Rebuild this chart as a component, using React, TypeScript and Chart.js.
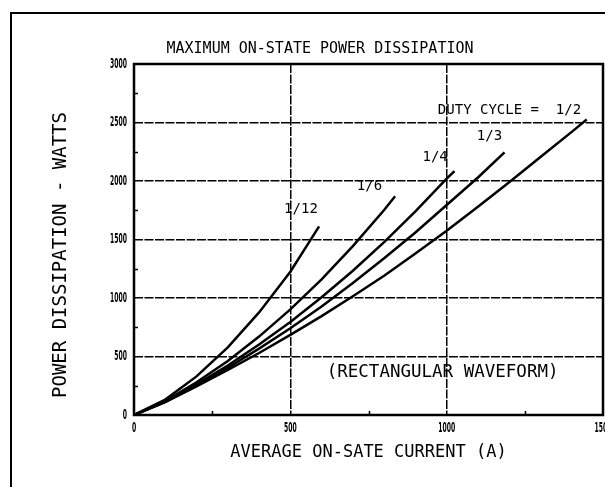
import { useEffect, useRef } from "react";
import { Chart, registerables } from "chart.js";

Chart.register(...registerables);

const TITLE = "MAXIMUM ON-STATE POWER DISSIPATION";
const X_TITLE = "AVERAGE ON-SATE CURRENT (A)";
const Y_TITLE = "POWER DISSIPATION - WATTS";

const X_TICKS = [0, 500, 1000, 1500];
const X_TICK_LABELS = ["0", "500", "1000", "1500"];
const Y_TICKS = [0, 500, 1000, 1500, 2000, 2500, 3000];
const Y_TICK_LABELS = ["0", "500", "1000", "1500", "2000", "2500", "3000"];
const X_MINOR = [250, 750, 1250];
const Y_MINOR = [250, 750, 1250, 1750, 2250, 2750];

// Duty cycle 1/2
const I_HALF = [0, 100, 200, 300, 400, 500, 600, 700, 800, 900, 1000, 1100, 1200, 1300, 1400, 1448];
const P_HALF = [0, 110, 245, 385, 530, 685, 845, 1015, 1190, 1380, 1575, 1780, 1990, 2205, 2420, 2525];
// Duty cycle 1/3
const I_THIRD = [0, 100, 200, 300, 400, 500, 600, 700, 800, 900, 1000, 1100, 1185];
const P_THIRD = [0, 112, 255, 404, 567, 741, 928, 1128, 1340, 1560, 1795, 2030, 2245];
// Duty cycle 1/4
const I_QUARTER = [0, 100, 200, 300, 400, 500, 600, 700, 800, 900, 1000, 1025];
const P_QUARTER = [0, 115, 262, 423, 602, 795, 1006, 1233, 1478, 1741, 2020, 2085];
// Duty cycle 1/6
const I_SIXTH = [0, 100, 200, 300, 400, 500, 600, 700, 800, 835];
const P_SIXTH = [0, 120, 280, 462, 670, 903, 1160, 1444, 1752, 1870];
// Duty cycle 1/12
const I_TWELFTH = [0, 100, 200, 300, 400, 500, 592];
const P_TWELFTH = [0, 132, 330, 578, 877, 1225, 1612];

const SERIES_NAMES = ["1/2", "1/3", "1/4", "1/6", "1/12"];
const SERIES_I = [I_HALF, I_THIRD, I_QUARTER, I_SIXTH, I_TWELFTH];
const SERIES_P = [P_HALF, P_THIRD, P_QUARTER, P_SIXTH, P_TWELFTH];

// Text annotations (anchored in data coordinates)
const NOTE_TEXT = ["1/12", "1/6", "1/4", "1/3", "DUTY CYCLE =  1/2", "(RECTANGULAR WAVEFORM)"];
const NOTE_I = [534, 753, 963, 1137, 1201, 987];
const NOTE_P = [1756, 1953, 2201, 2380, 2607, 363];
const NOTE_SIZE = [14, 14, 14, 14, 14, 17.5];

const MONO = "'DejaVu Sans Mono', monospace";

const decorPlugin = {
  id: "decor",
  afterDraw(chart: any) {
    const { ctx, chartArea: a, scales } = chart;
    const xs = scales.x;
    const ys = scales.y;
    ctx.save();
    ctx.strokeStyle = "#000";
    ctx.fillStyle = "#000";

    // outer frame (open to the right and bottom)
    ctx.lineWidth = 2;
    ctx.beginPath();
    ctx.moveTo(11, chart.height + 5);
    ctx.lineTo(11, 13);
    ctx.lineTo(chart.width + 5, 13);
    ctx.stroke();

    // plot frame
    ctx.lineWidth = 2.5;
    ctx.strokeRect(a.left, a.top, a.right - a.left, a.bottom - a.top);

    // minor ticks
    ctx.lineWidth = 1.5;
    ctx.beginPath();
    Y_MINOR.forEach((v) => {
      const y = Math.round(ys.getPixelForValue(v)) + 0.5;
      ctx.moveTo(a.left, y);
      ctx.lineTo(a.left + 4, y);
    });
    X_MINOR.forEach((v) => {
      const x = Math.round(xs.getPixelForValue(v)) + 0.5;
      ctx.moveTo(x, a.bottom);
      ctx.lineTo(x, a.bottom - 4);
    });
    ctx.stroke();

    // tick labels (condensed)
    ctx.font = "bold 16px 'DejaVu Sans'";
    ctx.textBaseline = "middle";
    Y_TICKS.forEach((v, i) => {
      const y = ys.getPixelForValue(v);
      ctx.save();
      ctx.translate(a.left - 7, y);
      ctx.scale(0.38, 0.9);
      ctx.textAlign = "right";
      ctx.fillText(Y_TICK_LABELS[i], 0, 0);
      ctx.restore();
    });
    X_TICKS.forEach((v, i) => {
      const x = xs.getPixelForValue(v);
      ctx.save();
      ctx.translate(x, a.bottom + 13);
      ctx.scale(0.38, 0.9);
      ctx.textAlign = "center";
      ctx.fillText(X_TICK_LABELS[i], 0, 0);
      ctx.restore();
    });

    // y axis title
    ctx.save();
    ctx.font = `19px ${MONO}`;
    ctx.textAlign = "center";
    ctx.textBaseline = "middle";
    ctx.translate(a.left - 73, (a.top + a.bottom) / 2 + 15.5);
    ctx.rotate(-Math.PI / 2);
    ctx.fillText(Y_TITLE, 0, 0);
    ctx.restore();

    // annotations
    NOTE_TEXT.forEach((t, i) => {
      ctx.font = `${NOTE_SIZE[i]}px ${MONO}`;
      ctx.textAlign = "center";
      ctx.textBaseline = "middle";
      ctx.fillText(t, xs.getPixelForValue(NOTE_I[i]), ys.getPixelForValue(NOTE_P[i]));
    });

    ctx.restore();
  },
};

export default function App() {
  const canvasRef = useRef<HTMLCanvasElement | null>(null);

  useEffect(() => {
    const canvas = canvasRef.current;
    if (!canvas) return;
    const chart = new Chart(canvas, {
      type: "line",
      data: {
        datasets: SERIES_NAMES.map((name, s) => ({
          label: name,
          data: SERIES_I[s].map((x, k) => ({ x, y: SERIES_P[s][k] })),
          borderColor: "#000",
          borderWidth: 2.5,
          pointRadius: 0,
          tension: 0,
          fill: false,
        })),
      },
      options: {
        animation: false,
        responsive: false,
        events: [],
        layout: {
          autoPadding: false,
          padding: { left: 37, right: 2, top: 30, bottom: 10 },
        },
        plugins: {
          legend: { display: false },
          tooltip: { enabled: false },
          title: {
            display: true,
            text: TITLE,
            color: "#000",
            font: { family: MONO, size: 15, weight: "normal", lineHeight: 1.2 },
            padding: { top: 10, bottom: 6 },
          },
        },
        scales: {
          x: {
            type: "linear",
            min: 0,
            max: 1500,
            afterBuildTicks: (scale: any) => {
              scale.ticks = X_TICKS.map((v) => ({ value: v }));
            },
            ticks: { display: false },
            grid: { color: "#000", lineWidth: 1.5, drawTicks: false },
            border: { display: false, dash: [9, 1.5] },
            title: {
              display: true,
              text: X_TITLE,
              color: "#000",
              font: { family: MONO, size: 17, weight: "normal", lineHeight: 1.2 },
              padding: { top: 0, bottom: 13.8 },
            },
            afterFit: (scale: any) => {
              scale.height = 62;
            },
          },
          y: {
            type: "linear",
            min: 0,
            max: 3000,
            afterBuildTicks: (scale: any) => {
              scale.ticks = Y_TICKS.map((v) => ({ value: v }));
            },
            ticks: { display: false },
            grid: { color: "#000", lineWidth: 1.5, drawTicks: false },
            border: { display: false, dash: [9, 1.5] },
            afterFit: (scale: any) => {
              scale.width = 97;
            },
          },
        },
      } as any,
      plugins: [decorPlugin],
    });
    return () => chart.destroy();
  }, []);

  return (
    <div
      style={{
        position: "fixed",
        left: 0,
        top: 0,
        width: 605,
        height: 487,
        overflow: "hidden",
        background: "#fff",
      }}
    >
      <canvas ref={canvasRef} width={605} height={487} style={{ display: "block" }} />
    </div>
  );
}
